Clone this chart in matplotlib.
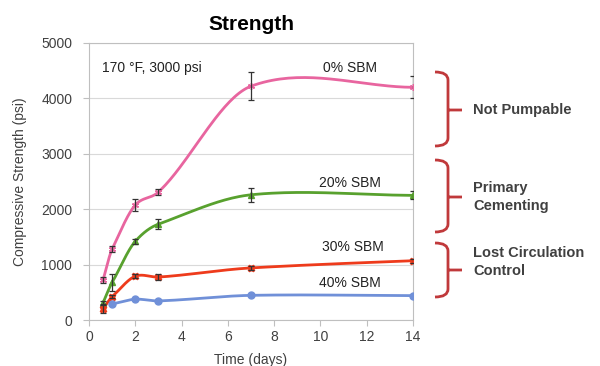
import numpy as np
import matplotlib
matplotlib.use("Agg")
import matplotlib.pyplot as plt
from matplotlib.path import Path
from matplotlib.patches import PathPatch

plt.rcParams['font.family'] = ['Liberation Sans', 'DejaVu Sans']

# ---- data ----
days_a = [0.6, 1, 2, 3, 7, 14]
sbm0 = [720, 1280, 2075, 2310, 4220, 4200]
sbm0_err = [60, 50, 110, 60, 250, 200]
sbm20 = [310, 680, 1420, 1730, 2260, 2250]
sbm20_err = [30, 150, 40, 90, 130, 70]
sbm30 = [200, 420, 790, 775, 940, 1070]
sbm30_err = [70, 30, 40, 50, 30, 40]
days_b = [1, 2, 3, 7, 14]
sbm40 = [290, 375, 345, 445, 440]
series_labels = ["0% SBM", "20% SBM", "30% SBM", "40% SBM"]
zones = ["Not Pumpable", "Primary\nCementing", "Lost Circulation\nControl"]


def smooth(x, y, n=40, k=0.9):
    x = np.asarray(x, float); y = np.asarray(y, float)
    m = np.zeros_like(y)
    m[0] = (y[1] - y[0]) / (x[1] - x[0])
    m[-1] = (y[-1] - y[-2]) / (x[-1] - x[-2])
    for i in range(1, len(x) - 1):
        m[i] = (y[i + 1] - y[i - 1]) / (x[i + 1] - x[i - 1])
    m = m * k
    xs, ys = [x[0]], [y[0]]
    for i in range(len(x) - 1):
        h = x[i + 1] - x[i]
        t = np.linspace(0, 1, n)[1:]
        h00 = 2 * t**3 - 3 * t**2 + 1
        h10 = t**3 - 2 * t**2 + t
        h01 = -2 * t**3 + 3 * t**2
        h11 = t**3 - t**2
        ys.extend(h00 * y[i] + h10 * h * m[i] + h01 * y[i + 1] + h11 * h * m[i + 1])
        xs.extend(x[i] + t * h)
    return np.array(xs), np.array(ys)


fig = plt.figure(figsize=(6, 3.66), dpi=100)
ax = fig.add_axes([89 / 600, 1 - 320 / 366, 324 / 600, 277 / 366])

specs = [
    (days_a, sbm0, sbm0_err, "#e8659f", (6, 2, 0), 5),
    (days_a, sbm20, sbm20_err, "#58a12e", "^", 5),
    (days_a, sbm30, sbm30_err, "#ee3b1c", "X", 5),
    (days_b, sbm40, None, "#7090d8", "o", 5),
]
for x, y, e, c, mk, ms in specs:
    sx, sy = smooth(x, y)
    ax.plot(sx, sy, color=c, lw=2, zorder=3)
    ax.plot(x, y, ls="none", marker=mk, color=c, ms=ms, zorder=4)
    if e is not None:
        ax.errorbar(x, y, yerr=e, fmt="none", ecolor="#333333", elinewidth=0.9,
                    capsize=2.5, capthick=0.9, zorder=5)

ax.set_xlim(0, 14)
ax.set_ylim(0, 5000)
ax.set_xticks(range(0, 15, 2))
ax.set_yticks(range(0, 5001, 1000))
ax.yaxis.grid(True, color="#d9d9d9", lw=0.8)
ax.set_axisbelow(True)
for s in ax.spines.values():
    s.set_color("#bfbfbf")
ax.tick_params(colors="#404040", labelsize=10, length=4, color="#bfbfbf")
ax.tick_params(axis="y", pad=8)
ax.set_xlabel("Time (days)", fontsize=10, color="#404040", labelpad=6)
ax.set_ylabel("Compressive Strength (psi)", fontsize=10, color="#404040", labelpad=10)
ax.set_title("Strength", fontsize=15, fontweight="bold", pad=9)

ax.text(0.55, 4549, "170 °F, 3000 psi", fontsize=10, color="#222222", va="center")
label_pos = [(11.28, 4549), (11.28, 2473), (11.4, 1318), (11.28, 668)]
for lab, (lx, ly) in zip(series_labels, label_pos):
    ax.text(lx, ly, lab, fontsize=10, color="#222222", ha="center", va="center")


# ---- brackets (pixel coords) ----
def px(x, y):
    return (x / 600.0, 1 - y / 366.0)


def brace(ytop, ybot, ymid, x0=435, x1=448, xp=462):
    verts = [px(x0, ytop), px(x1, ytop), px(x1, ytop + 8),
             px(x1, ybot - 8), px(x1, ybot), px(x0, ybot),
             px(x1, ymid), px(xp, ymid)]
    codes = [Path.MOVETO, Path.CURVE3, Path.CURVE3,
             Path.LINETO, Path.CURVE3, Path.CURVE3,
             Path.MOVETO, Path.LINETO]
    fig.patches.append(PathPatch(Path(verts, codes), transform=fig.transFigure,
                                 fc="none", ec="#c0393b", lw=2))


brace(72, 146, 110)
brace(160, 232, 197)
brace(243, 297, 270)

tx = 473 / 600.0
for lab, yy in zip(zones, [110, 197, 262]):
    fig.text(tx, 1 - yy / 366.0, lab, fontsize=10.5, fontweight="bold",
             color="#404040", va="center", ha="left", linespacing=1.3)

fig.savefig("out.png", dpi=100)
